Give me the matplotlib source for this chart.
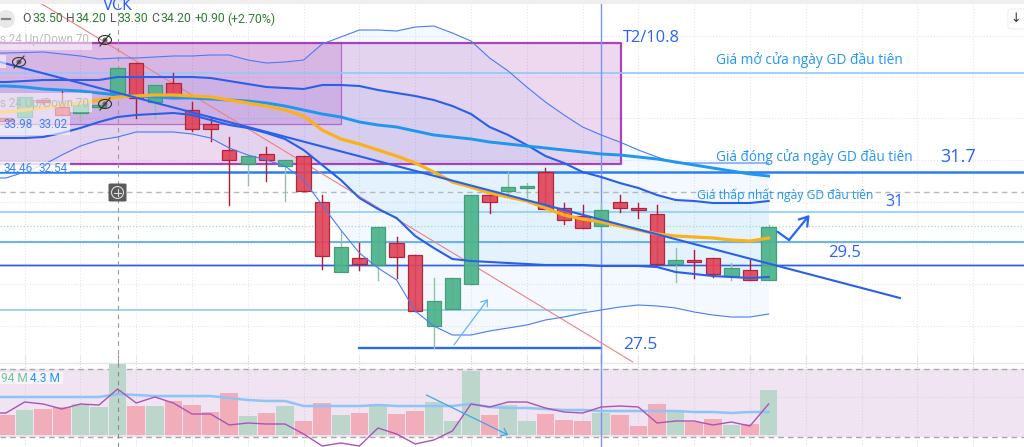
import numpy as np
import matplotlib
matplotlib.use('Agg')
import matplotlib.pyplot as plt
from matplotlib.patches import Rectangle, Ellipse, FancyBboxPatch, FancyArrowPatch

W, H = 1024, 447

# candles
opens = [36.38, 36.40, 36.74, 36.60, 36.48, 36.60, 36.88, 37.48, 36.70, 37.08, 36.54, 36.26, 35.74, 35.46,
         35.66, 35.42, 35.62, 34.70, 33.30, 33.58, 33.44, 33.88, 33.64, 32.22, 32.56, 33.06, 34.84, 34.92,
         34.98, 35.30, 34.58, 34.42, 34.22, 34.70, 34.58, 34.46, 33.46, 33.54, 33.58, 33.22, 33.34, 33.14]
highs = [36.38, 36.80, 36.74, 36.94, 36.74, 36.74, 37.38, 37.48, 37.04, 37.28, 36.70, 36.38, 36.00, 35.62,
         35.80, 35.54, 35.62, 34.84, 34.10, 33.88, 34.20, 34.00, 33.64, 33.18, 33.18, 34.84, 34.84, 35.30,
         35.08, 35.38, 34.68, 34.64, 34.68, 34.84, 34.68, 34.64, 33.78, 33.74, 33.58, 33.48, 33.54, 34.24]
lows = [36.32, 36.08, 36.66, 36.44, 36.34, 36.54, 36.88, 36.38, 36.38, 36.78, 36.12, 35.92, 34.64, 35.04,
        35.12, 34.72, 34.92, 33.36, 33.30, 33.34, 33.14, 33.18, 32.52, 31.78, 32.56, 33.06, 34.48, 34.84,
        34.80, 34.56, 34.26, 34.18, 34.22, 34.50, 34.38, 33.46, 33.10, 33.18, 33.20, 33.14, 33.14, 33.14]
closes = [36.32, 36.80, 36.70, 36.44, 36.68, 36.64, 37.38, 36.78, 37.04, 36.78, 36.16, 36.16, 35.54, 35.62,
          35.54, 35.54, 34.92, 33.62, 33.80, 33.46, 34.20, 33.60, 32.52, 32.72, 33.18, 34.84, 34.70, 35.00,
          35.02, 34.56, 34.34, 34.18, 34.54, 34.58, 34.54, 33.46, 33.54, 33.50, 33.26, 33.38, 33.14, 34.20]

# bands and moving averages
band_upper = [37.68, 37.69, 37.70, 37.66, 37.62, 37.56, 37.58, 37.58, 37.60, 37.62, 37.62, 37.64, 37.64, 37.54,
              37.48, 37.50, 37.54, 37.86, 38.00, 38.14, 38.14, 38.12, 38.20, 38.22, 38.08, 37.92, 37.58, 37.32,
              37.00, 36.70, 36.44, 36.20, 36.04, 35.90, 35.74, 35.60, 35.48, 35.48, 35.48, 35.48, 35.48, 35.48]
band_upper_in = [37.10, 37.12, 37.14, 37.14, 37.14, 37.14, 37.20, 37.20, 37.20, 37.20, 37.20, 37.18, 37.12, 37.06,
                 37.00, 36.98, 36.96, 37.04, 37.04, 37.02, 36.94, 36.88, 36.82, 36.74, 36.62, 36.46, 36.20, 36.04,
                 35.84, 35.62, 35.48, 35.30, 35.20, 35.08, 34.98, 34.84, 34.74, 34.72, 34.68, 34.68, 34.68, 34.72]
band_lower_in = [35.98, 35.98, 36.00, 36.08, 36.18, 36.30, 36.40, 36.44, 36.46, 36.48, 36.44, 36.34, 36.24, 36.18,
                 36.08, 35.96, 35.74, 35.44, 35.14, 34.78, 34.56, 34.38, 34.02, 33.78, 33.56, 33.52, 33.50, 33.48,
                 33.46, 33.44, 33.44, 33.44, 33.42, 33.42, 33.42, 33.40, 33.30, 33.26, 33.22, 33.20, 33.18, 33.20]
band_lower = [35.18, 35.30, 35.44, 35.64, 35.82, 35.94, 36.00, 36.10, 36.10, 36.10, 36.06, 35.98, 35.78, 35.64,
              35.54, 35.42, 35.14, 34.64, 34.14, 33.68, 33.38, 33.14, 32.52, 32.22, 32.04, 32.04, 32.12, 32.18,
              32.24, 32.34, 32.40, 32.48, 32.54, 32.60, 32.64, 32.62, 32.58, 32.50, 32.44, 32.40, 32.40, 32.46]
ma_orange = [36.50, 36.54, 36.58, 36.64, 36.68, 36.74, 36.80, 36.82, 36.84, 36.84, 36.82, 36.80, 36.74, 36.68,
             36.62, 36.54, 36.42, 36.14, 35.96, 35.86, 35.74, 35.62, 35.48, 35.30, 35.10, 35.00, 34.88, 34.80,
             34.72, 34.58, 34.44, 34.36, 34.30, 34.22, 34.14, 34.06, 34.02, 34.00, 33.98, 33.94, 33.92, 33.98]
ma_blue = [37.02, 37.00, 36.96, 36.94, 36.92, 36.88, 36.84, 36.82, 36.80, 36.78, 36.78, 36.76, 36.74, 36.72,
           36.68, 36.62, 36.54, 36.46, 36.40, 36.30, 36.24, 36.20, 36.12, 36.04, 36.00, 35.96, 35.90, 35.86,
           35.82, 35.78, 35.74, 35.70, 35.66, 35.64, 35.60, 35.56, 35.50, 35.44, 35.38, 35.32, 35.26, 35.22]

# volume pane, in millions
volume = [2.0, 2.5, 2.6, 2.8, 3.1, 2.8, 7.1, 2.9, 2.9, 3.4, 3.0, 2.3, 4.2, 1.9, 2.2, 2.9, 1.4, 3.2, 2.0, 2.2, 3.1,
          2.1, 2.4, 3.3, 1.4, 6.4, 2.0, 3.0, 1.4, 2.1, 1.5, 1.4, 2.2, 2.0, 0.9, 3.1, 2.4, 1.3, 1.6, 1.0, 1.1, 4.5]
vol_ma = [3.8, 3.8, 3.8, 3.8, 3.8, 3.8, 4.1, 4.0, 3.9, 3.9, 3.9, 3.9, 3.7, 3.5, 3.4, 3.4, 2.9, 2.9, 2.9, 2.9, 3.0,
          2.9, 2.9, 2.9, 2.9, 3.1, 2.8, 2.7, 2.7, 2.6, 2.5, 2.5, 2.4, 2.4, 2.4, 2.4, 2.4, 2.3, 2.3, 2.2, 2.3, 2.3]
vol_osc = [2.2, 3.3, 3.1, 2.6, 3.1, 3.0, 4.6, 3.2, 3.8, 3.2, 2.1, 2.1, 1.0, 1.2, 1.1, 1.1, 0.1, -1.1, -0.8, -1.1,
           0.7, 0.1, -0.9, -0.5, 0.4, 3.1, 2.8, 3.3, 3.3, 2.7, 2.3, 2.2, 2.8, 2.9, 2.8, 1.2, 1.4, 1.4, 1.0, 1.3, 0.9, 3.1]

# price levels drawn as rules
level_open = 37.28
level_close = 35.30
level_dash = 34.90
level_low = 34.50
level_dot = 34.22
level_a = 33.90
level_b = 33.44
level_c = 32.54
level_base = 31.78
grid_levels = [38.02, 37.20, 36.38, 35.54, 34.70, 33.88, 33.06, 32.22]

x = np.arange(len(opens))
x_ext = np.r_[-1, x]
XMIN, XMAX = -6 / 18.6, (W - 6) / 18.6

RED = '#e0455a'
RED_E = '#b01c30'
GREEN = '#4cb38a'
GREEN_E = '#3f9a72'
BLUE = '#2962ff'
SKY = '#2196f3'
PURPLE = '#9c27b0'

fig = plt.figure(figsize=(W / 100, H / 100), dpi=100, facecolor='white')
ax = fig.add_axes([0, 0, 1, 1])
ax.set_xlim(XMIN, XMAX)
ax.set_ylim(38.74 - 0.02 * H, 38.74)
ax.axis('off')


def ext(v):
    return np.r_[v[0], v]


def fx(px):
    return px / W


def fy(py):
    return 1 - py / H


# grid
for i in range(1, 55, 3):
    ax.axvline(i, ymin=fy(363), color='#e4e6ea', lw=0.8, ls=':', zorder=1)
for g in grid_levels:
    ax.axhline(g, color='#e4e6ea', lw=0.8, ls=':', zorder=1)

# band fills
ax.fill_between(x_ext, ext(band_upper), ext(band_lower), color='#2196f3', alpha=0.05, lw=0, zorder=2)
ax.fill_between(x_ext, ext(band_upper_in), ext(band_lower_in), color='#2196f3', alpha=0.07, lw=0, zorder=2)

# purple boxes
ax.add_patch(Rectangle((XMIN, 35.46), 33.05 - XMIN, 37.88 - 35.46, fc=PURPLE, alpha=0.18, lw=0, zorder=3))
ax.add_patch(Rectangle((XMIN, 36.26), 18.0 - XMIN, 37.90 - 36.26, fc=PURPLE, alpha=0.17, lw=0, zorder=3))
ax.plot([XMIN, 33.05, 33.05, XMIN], [37.88, 37.88, 35.46, 35.46], color=PURPLE, lw=1.6, alpha=0.85, zorder=3)
ax.plot([XMIN, 18.0, 18.0], [36.26, 36.26, 37.90], color=PURPLE, lw=0.9, alpha=0.6, zorder=3)

# horizontal rules
ax.axhline(level_open, color='#90caf9', lw=1.2, zorder=3)
ax.axhline(level_close, color='#2a7ff0', lw=1.8, zorder=3)
ax.axhline(level_dash, color='#b8b8b8', lw=1, ls=(0, (4, 3)), zorder=3)
ax.axhline(level_low, color='#90caf9', lw=1.2, zorder=3)
ax.axhline(level_dot, color='#9fdcc0', lw=0.9, ls=':', zorder=3)
ax.axhline(level_a, color='#5aaef0', lw=1.3, zorder=3)
ax.axhline(level_b, color='#c8d8fb', lw=2.2, zorder=3)
ax.axhline(level_b, color='#2f5fe8', lw=1.0, zorder=3)
ax.plot([XMIN, 31.2], [level_c, level_c], color='#90caf9', lw=1.2, zorder=3)
ax.plot([19, 32], [level_base, level_base], color='#2f6bef', lw=1.7, zorder=5)

# crosshair lines and drawn trend lines
ax.axvline(6, ymin=fy(363), color='#9a9a9a', lw=0.8, ls=(0, (4, 4)), zorder=3)
ax.axvline(32, ymin=fy(363), color='#7c93f5', lw=1.0, zorder=6)
ax.plot([1.93, 33.7], [38.66, 31.50], color='#f08080', lw=0.8, zorder=6)

# candles
for i in x:
    up = closes[i] >= opens[i]
    fc, ec = (GREEN, GREEN_E) if up else (RED, RED_E)
    ax.plot([i, i], [lows[i], highs[i]], color=ec if not up else '#8fc4a8', lw=1.0, zorder=7)
    bottom = min(opens[i], closes[i])
    ax.add_patch(Rectangle((i - 0.39, bottom), 0.78, abs(closes[i] - opens[i]), fc=fc, ec=ec, lw=0.9,
                           alpha=0.92, zorder=8))

# band and MA lines
ax.plot(x_ext, ext(band_upper), color='#4a7cf2', lw=0.8, zorder=9)
ax.plot(x_ext, ext(band_lower), color='#4a7cf2', lw=0.8, zorder=9)
ax.plot(x_ext, ext(band_upper_in), color='#2a5fec', lw=1.5, zorder=9)
ax.plot(x_ext, ext(band_lower_in), color='#2a5fec', lw=1.5, zorder=9)
ax.plot(x_ext, ext(ma_blue), color='#1f96f0', lw=2.1, zorder=9)
ax.plot(x_ext, ext(ma_orange), color='#fbb117', lw=2.3, zorder=10)
ax.plot([-0.32, 48.06], [37.50, 32.78], color='#2a5fec', lw=1.5, zorder=10)

# arrows
ax.add_patch(FancyArrowPatch((24.0, 31.80), (26.0, 32.80), arrowstyle='->,head_length=4,head_width=3',
                             color='#64b5f6', lw=0.9, zorder=11))
ax.plot([41.5, 42.1], [34.10, 33.94], color=BLUE, lw=1.6, zorder=11)
ax.add_patch(FancyArrowPatch((42.1, 33.94), (43.2, 34.44), arrowstyle='->,head_length=6,head_width=4',
                             color=BLUE, lw=1.6, shrinkA=0, shrinkB=0, zorder=11))

# volume pane
vax = fig.add_axes([0, 0, 1, 92 / H])
vax.set_xlim(XMIN, XMAX)
vax.set_ylim(-1.2, 8.0)
vax.axis('off')
vax.add_patch(Rectangle((XMIN, -0.2), XMAX - XMIN, 6.8, fc='#f0e3f2', lw=0, zorder=1))
vax.axhline(7.2, color='#e6e6e6', lw=1, zorder=2)
vax.axhline(6.6, color='#a8a8a8', lw=1, ls=(0, (4, 3)), zorder=2)
vax.axhline(-0.2, color='#a8a8a8', lw=1, ls=(0, (4, 3)), zorder=2)
vax.axhline(3.8, color='#dcd2de', lw=0.8, ls=':', zorder=2)
for i in range(1, 55, 3):
    vax.axvline(i, color='#dcd2de', lw=0.8, ls=':', zorder=2)
colors = ['#bcd6cc' if closes[i] >= opens[i] else '#f2adba' for i in x]
vax.bar(x, volume, width=0.94, color=colors, zorder=3)
vax.axvline(6, color='#8a8a8a', lw=0.8, ls=(0, (4, 4)), zorder=4)
vax.axvline(32, color='#7c93f5', lw=1.0, zorder=4)
vax.plot(x_ext, ext(vol_ma), color='#90c4f5', lw=1.8, zorder=5)
vax.plot(x_ext, ext(vol_osc), color='#a855b5', lw=1.0, zorder=6)
vax.add_patch(FancyArrowPatch((22.6, 4.0), (27.0, 0), arrowstyle='->,head_length=4,head_width=3',
                              color='#42a5e8', lw=0.9, shrinkA=0, shrinkB=0, zorder=7))
vax.add_patch(Rectangle((XMIN, 5.1), 3.4, 1.25, fc='white', alpha=0.6, lw=0, zorder=7))
vax.text(fx(1), (447 - 378) / 92, '94 M', transform=vax.transAxes, color='#6cc39b', fontsize=8.6, va='center',
         family='Roboto', zorder=8)
vax.text(fx(30), (447 - 378) / 92, '4.3 M', transform=vax.transAxes, color=SKY, fontsize=8.6, va='center',
         family='Roboto', zorder=8)

# overlay for labels in axes fractions, drawn over everything in the price pane
ov = fig.add_axes([0, 0, 1, 1], facecolor='none')
ov.set_xlim(0, 1)
ov.set_ylim(0, 1)
ov.axis('off')


def box(x0, y0, x1, y1, alpha=0.55):
    ov.add_patch(Rectangle((fx(x0), fy(y1)), fx(x1 - x0), (y1 - y0) / H, fc='white', alpha=alpha, lw=0))


def eye(cx, cy):
    ov.add_patch(Ellipse((fx(cx), fy(cy)), 13 / W, 9 / H, fc='none', ec='#333333', lw=0.8))
    ov.add_patch(Ellipse((fx(cx), fy(cy)), 5 / W, 5 / H, fc='#666666', ec='none'))
    ov.plot([fx(cx - 5), fx(cx + 5)], [fy(cy + 6), fy(cy - 6)], color='#333333', lw=0.8)


ov.text(fx(118), fy(6), 'VCK', color=BLUE, fontsize=10.5, ha='center', va='center', family='DejaVu Sans')
ov.add_patch(Rectangle((0, fy(4)), 1, 4 / H, fc='#eeeeee', lw=0))

box(0, 35, 92, 50)
box(0, 55, 6, 68)
box(0, 93, 92, 112)
box(0, 112, 70, 135)
box(0, 162, 70, 172, alpha=0.8)
gray = '#bdbdbd'
ov.text(fx(0), fy(40), 's 24 Up/Down 70', color=gray, fontsize=8.4, va='center', family='Roboto')
ov.text(fx(0), fy(104), 's 24 Up/Down 70', color=gray, fontsize=8.4, va='center', family='Roboto')
ov.text(fx(3), fy(125), '33.98', color='#3b82f6', fontsize=8.4, va='center', family='Roboto')
ov.text(fx(38), fy(125), '33.02', color='#3b82f6', fontsize=8.4, va='center', family='Roboto')
ov.text(fx(3), fy(168), '34.46', color='#3b82f6', fontsize=8.4, va='center', family='Roboto')
ov.text(fx(38), fy(168), '32.54', color='#3b82f6', fontsize=8.4, va='center', family='Roboto')
eye(19, 62)
eye(105, 40)
eye(105, 104)

# header
ov.add_patch(Ellipse((fx(6), fy(19)), 18 / W, 18 / H, fc='#e8e8e8', ec='none'))
ov.plot([fx(2), fx(10)], [fy(19), fy(19)], color='#888888', lw=1.6)
header = [(22, 'O', '#555555'), (32, '33.50', '#2e7d32'), (66, 'H', '#555555'), (75, '34.20', '#2e7d32'),
          (110, 'L', '#555555'), (117, '33.30', '#2e7d32'), (151, 'C', '#555555'), (160, '34.20', '#2e7d32'),
          (195, '+0.90', '#2e7d32'), (227, '(+2.70%)', '#2e7d32')]
for px, s, c in header:
    ov.text(fx(px), fy(19), s, color=c, fontsize=8.8, va='center', family='Roboto')

# crosshair button
ov.add_patch(FancyBboxPatch((fx(108.5), fy(201.5)), 18 / W, 18 / H, boxstyle='round,pad=0,rounding_size=0.002',
                            fc='#5a5a5a', ec='none'))
ov.add_patch(Ellipse((fx(117.5), fy(192.5)), 12 / W, 12 / H, fc='none', ec='#dddddd', lw=0.8))
ov.plot([fx(114), fx(121)], [fy(192.5), fy(192.5)], color='#dddddd', lw=0.8)
ov.plot([fx(117.5), fx(117.5)], [fy(189), fy(196)], color='#dddddd', lw=0.8)

# scroll button
ov.add_patch(FancyBboxPatch((fx(1008), fy(29)), 22 / W, 20 / H, boxstyle='round,pad=0,rounding_size=0.004',
                            fc='white', ec='#eeeeee', lw=0.8))
ov.text(fx(1016), fy(19), '\u2193', color='#333333', fontsize=9, ha='center', va='center', family='DejaVu Sans')

# annotations
ov.text(fx(623), fy(38), 'T2/10.8', color=BLUE, fontsize=11.8, va='center', family='Open Sans')
ov.text(fx(716), fy(60), 'Giá mở cửa ngày GD đầu tiên', color=SKY, fontsize=9.9, va='center', family='Open Sans')
ov.text(fx(716), fy(157), 'Giá đóng cửa ngày GD đầu tiên', color=SKY, fontsize=9.8, va='center', family='Open Sans')
ov.text(fx(940), fy(157), '31.7', color=BLUE, fontsize=13, va='center', family='Open Sans')
ov.text(fx(697), fy(195), 'Giá thấp nhất ngày GD đầu tiên', color=SKY, fontsize=8.7, va='center', family='Open Sans')
ov.text(fx(885), fy(202), '31', color=BLUE, fontsize=11.5, va='center', family='Open Sans')
ov.text(fx(828), fy(253), '29.5', color=BLUE, fontsize=12, va='center', family='Open Sans')
ov.text(fx(623), fy(345), '27.5', color=BLUE, fontsize=12.5, va='center', family='Open Sans')

fig.savefig('out.png', dpi=100, facecolor='white')
